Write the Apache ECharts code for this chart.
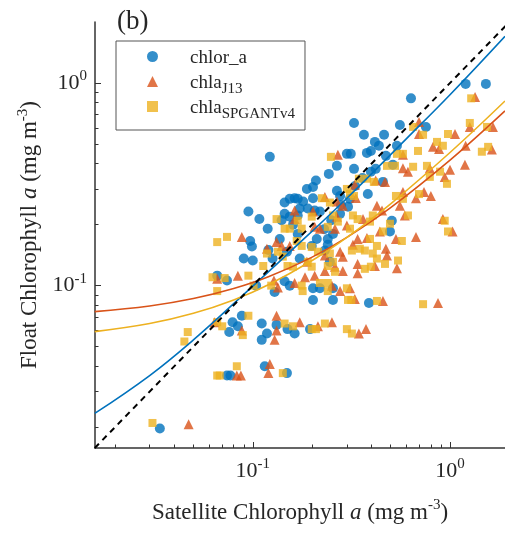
<!DOCTYPE html>
<html>
<head>
<meta charset="utf-8">
<script src="https://cdn.jsdelivr.net/npm/echarts@6.0.0/dist/echarts.min.js"></script>
<style>
  html, body { margin: 0; padding: 0; background: #fff; }
  #chart { width: 505px; height: 537px; }
</style>
</head>
<body>
<div id="chart"></div>
<script>
// Axis extents (mg m^-3), both axes logarithmic
const X_RANGE = [0.01585, 1.9];
const Y_RANGE = [0.0158, 2.0];

// Tick positions
const majorTicks = [0.1, 1];
const minorTicks = [0.02, 0.03, 0.04, 0.05, 0.06, 0.07, 0.08, 0.09,
                    0.2, 0.3, 0.4, 0.5, 0.6, 0.7, 0.8, 0.9];

// Matchups: [satellite chl, float chl]
const chlorA = [
  [1.20,0.99],[1.52,0.99],[0.634,0.84],[0.326,0.635],[0.557,0.62],[0.755,0.607],[0.366,0.555],
  [0.416,0.512],[0.463,0.555],[0.436,0.49],[0.538,0.49],[0.397,0.462],[0.379,0.452],[0.300,0.447],
  [0.314,0.447],[0.473,0.437],[0.122,0.432],[0.267,0.39],[0.326,0.377],[0.513,0.395],[0.397,0.365],
  [0.42,0.377],[0.243,0.356],[0.457,0.325],[0.209,0.33],[0.202,0.307],[0.188,0.30],[0.267,0.294],
  [0.277,0.277],[0.383,0.283],[0.163,0.27],[0.154,0.268],[0.145,0.257],[0.169,0.268],[0.173,0.24],
  [0.202,0.27],[0.311,0.268],[0.304,0.245],[0.190,0.24],[0.206,0.235],[0.219,0.232],[0.095,0.232],
  [0.108,0.213],[0.277,0.226],[0.145,0.226],[0.154,0.219],[0.169,0.222],[0.119,0.191],[0.255,0.18],
  [0.24,0.17],[0.169,0.18],[0.137,0.17],[0.507,0.209],[0.496,0.185],[0.211,0.17],[0.199,0.157],
  [0.099,0.156],[0.097,0.166],[0.232,0.149],[0.24,0.159],[0.149,0.147],[0.173,0.136],[0.09,0.136],
  [0.1,0.133],[0.126,0.136],[0.246,0.131],[0.066,0.112],[0.074,0.106],[0.145,0.105],[0.154,0.1],
  [0.202,0.097],[0.219,0.097],[0.104,0.1],[0.129,0.093],[0.255,0.097],[0.202,0.085],[0.255,0.085],
  [0.388,0.082],[0.088,0.071],[0.111,0.065],[0.132,0.064],[0.079,0.066],[0.084,0.063],[0.076,0.059],
  [0.15,0.061],[0.163,0.058],[0.195,0.061],[0.111,0.054],[0.118,0.058],[0.115,0.04],[0.149,0.037],
  [0.074,0.036],[0.077,0.036],[0.0338,0.0197],[0.14,0.21],[0.16,0.2],[0.18,0.26],[0.25,0.21],
  [0.23,0.19],[0.12,0.15],[0.33,0.31],[0.36,0.34],[0.28,0.25]
];
const chlaJ13 = [
  [1.34,0.853],[0.696,0.642],[1.26,0.607],[1.65,0.607],[0.696,0.56],[1.06,0.56],[0.82,0.484],
  [0.88,0.473],[1.63,0.47],[1.2,0.49],[0.27,0.442],[0.577,0.442],[0.577,0.38],[0.79,0.38],
  [1.19,0.395],[0.94,0.344],[1.0,0.373],[0.42,0.33],[0.468,0.325],[0.329,0.315],[0.612,0.365],
  [0.672,0.27],[0.577,0.29],[0.738,0.29],[0.80,0.277],[0.232,0.274],[0.267,0.26],[0.333,0.271],
  [0.286,0.248],[0.426,0.248],[0.557,0.248],[0.163,0.235],[0.202,0.232],[0.267,0.219],[0.362,0.213],
  [0.452,0.235],[0.59,0.222],[0.92,0.213],[1.03,0.185],[0.163,0.213],[0.206,0.195],[0.219,0.191],
  [0.30,0.198],[0.261,0.191],[0.34,0.17],[0.379,0.172],[0.441,0.185],[0.473,0.152],[0.532,0.17],
  [0.672,0.174],[0.322,0.159],[0.286,0.139],[0.277,0.147],[0.154,0.157],[0.14,0.157],[0.118,0.152],
  [0.132,0.164],[0.088,0.174],[0.188,0.131],[0.232,0.141],[0.479,0.141],[0.34,0.128],[0.416,0.125],
  [0.538,0.122],[0.261,0.124],[0.232,0.118],[0.286,0.118],[0.34,0.115],[0.184,0.11],[0.206,0.112],
  [0.163,0.103],[0.128,0.106],[0.084,0.112],[0.066,0.108],[0.311,0.097],[0.252,0.1],[0.277,0.094],
  [0.329,0.086],[0.134,0.098],[0.457,0.084],[0.869,0.082],[0.132,0.071],[0.173,0.066],[0.214,0.063],
  [0.252,0.066],[0.132,0.06],[0.129,0.054],[0.088,0.06],[0.064,0.066],[0.345,0.058],[0.375,0.061],
  [0.122,0.041],[0.12,0.037],[0.083,0.036],[0.087,0.036],[0.0473,0.0207]
];
const chlaSPGANTv4 = [
  [1.28,0.84],[1.26,0.635],[0.65,0.607],[0.73,0.555],[1.54,0.607],[0.977,0.56],[0.538,0.447],
  [0.577,0.447],[0.249,0.432],[0.859,0.512],[0.92,0.49],[1.45,0.458],[1.56,0.484],[0.688,0.462],
  [0.479,0.39],[0.526,0.39],[0.65,0.386],[0.764,0.39],[0.89,0.365],[0.965,0.318],[0.79,0.344],
  [0.379,0.337],[0.411,0.325],[0.326,0.277],[0.345,0.337],[0.30,0.30],[0.311,0.283],[0.532,0.277],
  [0.577,0.268],[0.696,0.283],[0.612,0.222],[0.94,0.209],[0.977,0.185],[0.224,0.27],[0.246,0.257],
  [0.199,0.219],[0.169,0.209],[0.177,0.191],[0.154,0.191],[0.255,0.222],[0.27,0.207],[0.24,0.195],
  [0.322,0.222],[0.34,0.213],[0.311,0.191],[0.406,0.222],[0.393,0.207],[0.457,0.185],[0.496,0.202],
  [0.393,0.17],[0.426,0.157],[0.406,0.144],[0.57,0.166],[0.132,0.213],[0.145,0.191],[0.167,0.166],
  [0.177,0.157],[0.199,0.155],[0.214,0.147],[0.246,0.144],[0.318,0.149],[0.349,0.152],[0.37,0.149],
  [0.24,0.125],[0.255,0.131],[0.261,0.117],[0.426,0.136],[0.468,0.128],[0.545,0.133],[0.37,0.121],
  [0.397,0.124],[0.19,0.131],[0.199,0.124],[0.15,0.125],[0.16,0.124],[0.113,0.125],[0.134,0.147],
  [0.142,0.139],[0.118,0.144],[0.066,0.164],[0.074,0.174],[0.0625,0.11],[0.072,0.109],[0.066,0.094],
  [0.095,0.112],[0.101,0.1],[0.124,0.1],[0.219,0.103],[0.24,0.103],[0.24,0.094],[0.30,0.097],
  [0.304,0.085],[0.316,0.085],[0.426,0.084],[0.73,0.081],[0.179,0.094],[0.177,0.1],[0.199,0.061],
  [0.209,0.061],[0.232,0.065],[0.30,0.061],[0.318,0.058],[0.145,0.065],[0.16,0.063],[0.095,0.071],
  [0.066,0.066],[0.07,0.063],[0.089,0.057],[0.0468,0.059],[0.045,0.053],[0.083,0.04],[0.066,0.036],
  [0.068,0.036],[0.142,0.037],[0.031,0.021]
];

// Fitted relationships, sampled along the satellite axis
const fitChlorA = [[0.0158,0.0234],[0.03,0.036],[0.05,0.054],[0.085,0.086],[0.15,0.143],
                   [0.3,0.27],[0.6,0.53],[1.0,0.875],[1.9,1.70]];
const fitJ13 = [[0.0158,0.0744],[0.03,0.0793],[0.05,0.0863],[0.08,0.0967],[0.12,0.1105],
                [0.2,0.1383],[0.3,0.173],[0.5,0.2424],[1.0,0.416],[1.9,0.728]];
const fitSPGANTv4 = [[0.0158,0.0593],[0.03,0.065],[0.05,0.073],[0.08,0.085],[0.12,0.101],
                     [0.2,0.133],[0.3,0.173],[0.5,0.2535],[1.0,0.454],[1.9,0.815]];
// 1:1 reference
const oneToOne = [[0.0158,0.0158],[2.0,2.0]];

const COLORS = { blue: '#0072BD', red: '#D95319', yellow: '#EDB120' };
const SERIF = 'Liberation Serif';
const INK = '#262626';

const powerLabel = v => '{b|10}{s|' + Math.round(Math.log10(v)) + '}';
const powerRich = {
  b: { fontFamily: SERIF, fontSize: 22, color: INK },
  s: { fontFamily: SERIF, fontSize: 15, color: INK, padding: [0, 0, 14, 0] }
};
const nameRich = {
  t: { fontFamily: SERIF, fontSize: 23, color: INK },
  i: { fontFamily: SERIF, fontSize: 23, fontStyle: 'italic', color: INK },
  sup: { fontFamily: SERIF, fontSize: 15, color: INK, padding: [0, 0, 14, 0] }
};

function mainAxis(range, name, extra) {
  return Object.assign({
    type: 'log', logBase: 10, min: range[0], max: range[1],
    axisLine: { show: true, lineStyle: { color: '#333', width: 1.5 } },
    axisTick: { show: true, inside: true, length: 6, customValues: majorTicks,
                lineStyle: { color: '#333', width: 1 } },
    splitLine: { show: false },
    name: name, nameLocation: 'middle'
  }, extra);
}
function minorAxis(range, pos) {
  return {
    type: 'log', logBase: 10, min: range[0], max: range[1], position: pos,
    axisLine: { show: false },
    axisTick: { show: true, inside: true, length: 3.5, customValues: minorTicks,
                lineStyle: { color: '#333', width: 1 } },
    axisLabel: { show: false }, splitLine: { show: false }
  };
}

// Every legend row carries a subscript token so all rows share one height
const legendNames = {
  'chlor_a': '{sp|}{t|chlor_a}{sub| }',
  'chla_J13': '{sp|}{t|chla}{sub|J13}',
  'chla_SPGANTv4': '{sp|}{t|chla}{sub|SPGANTv4}'
};

const chart = echarts.init(document.getElementById('chart'), null, { renderer: 'canvas' });
chart.setOption({
  animation: false,
  backgroundColor: '#fff',
  title: {
    text: '(b)', left: 112, top: 3,
    textStyle: { fontFamily: SERIF, fontSize: 27, fontWeight: 'normal', color: INK }
  },
  grid: { left: 95, right: 0, top: 22, bottom: 89, containLabel: false },
  xAxis: [
    mainAxis(X_RANGE, 'Satellite Chlorophyll {i|a} {t|(mg m}{sup|-3}{t|)}', {
      position: 'bottom', nameGap: 50,
      axisLabel: { customValues: majorTicks, formatter: powerLabel, rich: powerRich, margin: 9 },
      nameTextStyle: { fontFamily: SERIF, fontSize: 23, color: INK, rich: nameRich }
    }),
    minorAxis(X_RANGE, 'bottom')
  ],
  yAxis: [
    mainAxis(Y_RANGE, 'Float Chlorophyll {i|a} {t|(mg m}{sup|-3}{t|)}', {
      position: 'left', nameGap: 42,
      axisLabel: { customValues: majorTicks, formatter: powerLabel, rich: powerRich, margin: 8 },
      nameTextStyle: { fontFamily: SERIF, fontSize: 23, color: INK, rich: nameRich }
    }),
    minorAxis(Y_RANGE, 'left')
  ],
  legend: {
    orient: 'vertical', left: 116, top: 41,
    padding: [4, 10, 8, 31], itemGap: -2,
    itemWidth: 11, itemHeight: 11,
    backgroundColor: '#fff', borderColor: '#555', borderWidth: 1,
    data: ['chlor_a', 'chla_J13', 'chla_SPGANTv4'],
    formatter: n => legendNames[n],
    textStyle: {
      fontFamily: SERIF, fontSize: 19, color: INK,
      rich: {
        sp: { width: 27 },
        t: { fontFamily: SERIF, fontSize: 19, color: INK, lineHeight: 31, padding: [4, 0, 0, 0] },
        sub: { fontFamily: SERIF, fontSize: 15, color: INK, lineHeight: 31, verticalAlign: 'bottom' }
      }
    }
  },
  series: [
    { name: 'chlor_a', type: 'scatter', data: chlorA, symbol: 'circle', symbolSize: 10,
      itemStyle: { color: COLORS.blue }, z: 2 },
    { name: 'chla_J13', type: 'scatter', data: chlaJ13, symbol: 'triangle', symbolSize: 10,
      itemStyle: { color: COLORS.red }, z: 2 },
    { name: 'chla_SPGANTv4', type: 'scatter', data: chlaSPGANTv4, symbol: 'rect', symbolSize: 8,
      itemStyle: { color: COLORS.yellow }, z: 2 },
    { type: 'line', data: fitChlorA, smooth: 0.4, showSymbol: false, symbol: 'none',
      lineStyle: { color: COLORS.blue, width: 1.6 }, z: 4, silent: true },
    { type: 'line', data: fitJ13, smooth: 0.4, showSymbol: false, symbol: 'none',
      lineStyle: { color: COLORS.red, width: 1.6 }, z: 4, silent: true },
    { type: 'line', data: fitSPGANTv4, smooth: 0.4, showSymbol: false, symbol: 'none',
      lineStyle: { color: COLORS.yellow, width: 1.6 }, z: 4, silent: true },
    { type: 'line', data: oneToOne, showSymbol: false, symbol: 'none', clip: true,
      lineStyle: { color: '#000', width: 2, type: [6, 5] }, z: 5, silent: true }
  ]
});
</script>
</body>
</html>
